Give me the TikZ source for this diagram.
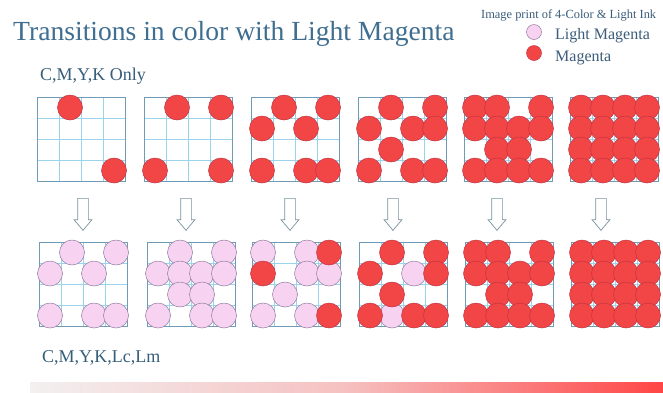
\documentclass[tikz,border=0pt]{standalone}
\usepackage{fontspec}
\setmainfont{Liberation Serif}
\usetikzlibrary{positioning, shapes.arrows}

\definecolor{titleblue}{HTML}{3F6E90}
\definecolor{legendblue}{HTML}{3B5C7A}
\definecolor{celllight}{HTML}{9AD4EC}
\definecolor{cellframe}{HTML}{6F9BB6}
\definecolor{inkm}{HTML}{F24545}
\definecolor{inkmedge}{HTML}{C23442}
\definecolor{inkl}{HTML}{F7D3F1}
\definecolor{inkledge}{HTML}{8E7A9E}
\definecolor{arrowedge}{HTML}{7A929F}
\definecolor{barleft}{HTML}{F3F0F0}
\definecolor{barmid}{HTML}{F6C0C0}
\definecolor{barright}{HTML}{FF4545}

% one 4x4 block of cells: name, left, top, dots as col/row/ink
\newcommand{\inkgrid}[4]{%
  \begin{scope}[shift={(#2,#3)}]
    \foreach \k in {1,2,3} {
      \draw[grid line] (\k*22,0) -- (\k*22,84);
      \draw[grid line] (0,\k*21) -- (88,\k*21);
    }
    \draw[grid frame] (0,0) rectangle (88,84);
    \foreach \c/\r/\ink in {#4}
      \node[dot \ink] (#1-\c\r) at (\c*22+11, \r*21+10.5) {};
  \end{scope}}

\begin{document}
\begin{tikzpicture}[
        x=1pt, y=-1pt,
        grid line/.style={draw=celllight, line width=0.8pt},
        grid frame/.style={draw=cellframe, line width=0.8pt},
        dot m/.style={circle, fill=inkm, draw=inkmedge, line width=0.5pt, minimum size=25pt, inner sep=0pt},
        dot l/.style={circle, fill=inkl, draw=inkledge, line width=0.5pt, minimum size=25pt, inner sep=0pt},
        title text/.style={text=titleblue, font=\fontsize{27.6}{30}\selectfont, inner sep=0pt},
        label text/.style={text=titleblue!85!black, font=\fontsize{18}{20}\selectfont, inner sep=0pt},
        legend text/.style={text=legendblue, font=\fontsize{16}{18}\selectfont, inner sep=0pt},
        legend note/.style={text=legendblue, font=\fontsize{12.4}{14}\selectfont, inner sep=0pt},
        down arrow/.style={single arrow, draw=arrowedge, fill=white, line width=0.7pt,
            rotate=-90, anchor=tail, minimum height=32pt, inner xsep=0pt, inner ysep=5pt,
            single arrow head extend=3.5pt, single arrow tip angle=80}
    ]

    % Page size
    \fill[white] (0,0) rectangle (663,392);
    \useasboundingbox (0,0) rectangle (663,392);

    % Rows of the two ink sets
    \def\toprow{97}
    \def\botrow{242}

    % Headings
    \node[title text, anchor=base west] (title) at (13,40) {Transitions in color with Light Magenta};
    \node[label text, anchor=base west] (cmyk) at (40,80) {C,M,Y,K Only};
    \node[label text, anchor=base west] (cmyklight) at (42,362) {C,M,Y,K,Lc,Lm};

    % Legend
    \node[legend note, anchor=base west] (legend) at (481,18) {Image print of 4-Color \& Light Ink};
    \node[dot l, minimum size=15pt] (keyl) at (534,32) {};
    \node[dot m, minimum size=15pt] (keym) at (534,53) {};
    \node[legend text, anchor=base west] (keyltext) at (555,39) {Light Magenta};
    \node[legend text, anchor=base west] (keymtext) at (555,61) {Magenta};

    % Top row: magenta only
    \inkgrid{t1}{37}{\toprow}{1/0/m, 3/3/m}
    \inkgrid{t2}{144}{\toprow}{1/0/m, 3/0/m, 0/3/m, 3/3/m}
    \inkgrid{t3}{251}{\toprow}{1/0/m, 3/0/m, 0/1/m, 2/1/m, 0/3/m, 2/3/m, 3/3/m}
    \inkgrid{t4}{358}{\toprow}{1/0/m, 3/0/m, 0/1/m, 2/1/m, 3/1/m, 1/2/m, 0/3/m, 2/3/m, 3/3/m}
    \inkgrid{t5}{464}{\toprow}{0/0/m, 1/0/m, 3/0/m, 0/1/m, 1/1/m, 2/1/m, 3/1/m, 1/2/m, 2/2/m,
        0/3/m, 1/3/m, 2/3/m, 3/3/m}
    \inkgrid{t6}{570}{\toprow}{0/0/m, 1/0/m, 2/0/m, 3/0/m, 0/1/m, 1/1/m, 2/1/m, 3/1/m,
        0/2/m, 1/2/m, 2/2/m, 3/2/m, 0/3/m, 1/3/m, 2/3/m, 3/3/m}

    % Arrows between the rows
    \foreach \x [count=\i] in {83,186,290,393,497,601}
        \node[down arrow] (arrow\i) at (\x,198) {};

    % Bottom row: light magenta first, magenta over it
    \inkgrid{b1}{39}{\botrow}{1/0/l, 3/0/l, 0/1/l, 2/1/l, 0/3/l, 2/3/l, 3/3/l}
    \inkgrid{b2}{147}{\botrow}{1/0/l, 3/0/l, 0/1/l, 1/1/l, 2/1/l, 3/1/l, 1/2/l, 2/2/l,
        0/3/l, 2/3/l, 3/3/l}
    \inkgrid{b3}{252}{\botrow}{0/0/l, 2/0/l, 2/1/l, 3/1/l, 1/2/l, 0/3/l, 2/3/l,
        3/0/m, 0/1/m, 3/3/m}
    \inkgrid{b4}{359}{\botrow}{2/1/l, 1/3/l,
        1/0/m, 3/0/m, 0/1/m, 3/1/m, 1/2/m, 0/3/m, 2/3/m, 3/3/m}
    \inkgrid{b5}{465}{\botrow}{0/0/m, 1/0/m, 3/0/m, 0/1/m, 1/1/m, 2/1/m, 3/1/m, 1/2/m, 2/2/m,
        0/3/m, 1/3/m, 2/3/m, 3/3/m}
    \inkgrid{b6}{571}{\botrow}{0/0/m, 1/0/m, 2/0/m, 3/0/m, 0/1/m, 1/1/m, 2/1/m, 3/1/m,
        0/2/m, 1/2/m, 2/2/m, 3/2/m, 0/3/m, 1/3/m, 2/3/m, 3/3/m}

    % Colour bar along the foot
    \shade[left color=barleft, right color=barright, middle color=barmid] (30,382) rectangle (663,392);

\end{tikzpicture}
\end{document}
